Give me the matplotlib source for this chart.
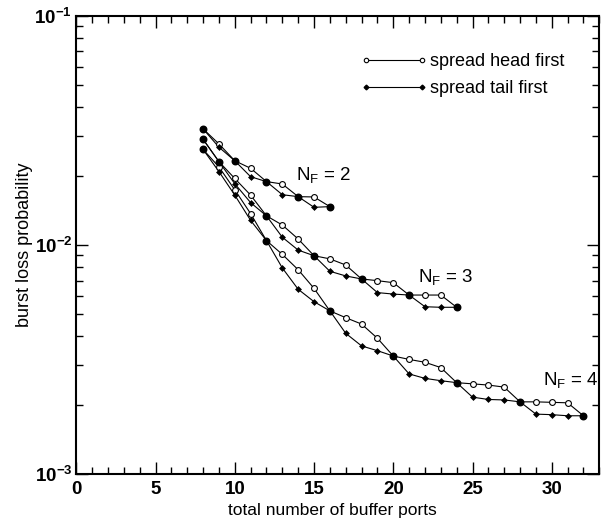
import numpy as np
import matplotlib
matplotlib.use("Agg")
import matplotlib.pyplot as plt
from matplotlib.ticker import MultipleLocator, FixedLocator, FixedFormatter, LogLocator, NullFormatter
from matplotlib.lines import Line2D
from matplotlib.legend_handler import HandlerLine2D

plt.rcParams['font.family'] = ['Liberation Sans', 'DejaVu Sans']
plt.rcParams['mathtext.fontset'] = 'custom'
plt.rcParams['mathtext.rm'] = 'Liberation Sans'
plt.rcParams['mathtext.it'] = 'Liberation Sans:italic'
plt.rcParams['mathtext.bf'] = 'Liberation Sans:bold'

# ---- data ----
x_nf2 = list(range(8, 17))
head_nf2 = [0.0321, 0.0276, 0.0233, 0.0216, 0.0189, 0.01845, 0.01625, 0.0162, 0.0147]
tail_nf2 = [0.0321, 0.0267, 0.0233, 0.01985, 0.0189, 0.01657, 0.01625, 0.0146, 0.0147]

x_nf3 = list(range(8, 25))
head_nf3 = [0.0289, 0.0231, 0.0195, 0.0165, 0.0134, 0.01222, 0.01062, 0.00898, 0.0087,
            0.00818, 0.00711, 0.00699, 0.00685, 0.00605, 0.00605, 0.00605, 0.00535]
tail_nf3 = [0.0289, 0.0231, 0.0185, 0.0153, 0.0134, 0.01081, 0.0095, 0.00898, 0.00768,
            0.00733, 0.00711, 0.0062, 0.00611, 0.00605, 0.00538, 0.00535, 0.00535]

x_nf4 = list(range(8, 33))
head_nf4 = [0.0261, 0.0219, 0.0174, 0.0137, 0.01045, 0.0091, 0.0078, 0.00647, 0.00516,
            0.00482, 0.00452, 0.00392, 0.00328, 0.00317, 0.00308, 0.00292, 0.00251,
            0.00248, 0.00245, 0.0024, 0.00207, 0.00207, 0.00206, 0.00205, 0.0018]
tail_nf4 = [0.0261, 0.0209, 0.0165, 0.0128, 0.01045, 0.00794, 0.00641, 0.00566, 0.00516,
            0.00412, 0.00363, 0.00346, 0.00328, 0.00274, 0.00262, 0.00256, 0.00251,
            0.00217, 0.00212, 0.00211, 0.00207, 0.00183, 0.00182, 0.0018, 0.0018]

curve_labels = [r'$\mathrm{N_F}$ = 2', r'$\mathrm{N_F}$ = 3', r'$\mathrm{N_F}$ = 4']
legend_labels = ['spread head first', 'spread tail first']
xlabel = 'total number of buffer ports'
ylabel = 'burst loss probability'

# ---- figure ----
fig = plt.figure(figsize=(6.13, 5.24), dpi=100)
ax = fig.add_axes([76.3/613, 1-474.3/524, (599.3-76.3)/613, (474.3-15.7)/524])

lw = 0.8
series = [(x_nf2, head_nf2, tail_nf2), (x_nf3, head_nf3, tail_nf3), (x_nf4, head_nf4, tail_nf4)]
for xs, hs, ts in series:
    xs = np.array(xs); hs = np.array(hs); ts = np.array(ts)
    ax.plot(xs, hs, '-', color='black', lw=lw, zorder=2)
    ax.plot(xs, ts, '-', color='black', lw=lw, zorder=2)
    diff = ~np.isclose(hs, ts)
    ax.plot(xs[diff], hs[diff], 'o', ls='none', mfc='white', mec='black', mew=0.8, ms=4.2, zorder=3)
    ax.plot(xs[diff], ts[diff], 'D', ls='none', mfc='black', mec='black', mew=0.5, ms=3.0, zorder=3)
    same = ~diff
    ax.plot(xs[same], hs[same], 'o', ls='none', mfc='black', mec='black', ms=4.7, zorder=4)

ax.set_yscale('log')
ax.set_xlim(0, 33)
ax.set_ylim(1e-3, 1e-1)

ax.xaxis.set_major_locator(MultipleLocator(5))
ax.xaxis.set_minor_locator(MultipleLocator(1))
ax.yaxis.set_major_locator(FixedLocator([1e-3, 1e-2, 1e-1]))
ax.yaxis.set_major_formatter(FixedFormatter([r'$\mathbf{10^{-3}}$', r'$\mathbf{10^{-2}}$', r'$\mathbf{10^{-1}}$']))
ax.yaxis.set_minor_locator(LogLocator(base=10, subs=np.arange(2, 10)))
ax.yaxis.set_minor_formatter(NullFormatter())
ax.set_xticks([0, 5, 10, 15, 20, 25, 30])
ax.set_xticklabels(['0', '5', '10', '15', '20', '25', '30'], fontweight='bold')

ax.tick_params(which='both', direction='in', top=True, right=True, width=1.0, labelsize=13.5)
ax.tick_params(which='major', length=8.5)
ax.tick_params(axis='x', which='major', pad=5)
ax.tick_params(axis='y', which='major', pad=3)
ax.tick_params(which='minor', length=5)
for sp in ax.spines.values():
    sp.set_linewidth(1.5)

ax.set_xlabel(xlabel, fontsize=12.5)
ax.xaxis.set_label_coords((332 - 76.3) / 523.0, -29 / 458.6)
ax.set_ylabel(ylabel, fontsize=13)
ax.yaxis.set_label_coords((33 - 76.3) / 523.0, 0.5)

# curve labels
ax.text(13.85, 0.0192, curve_labels[0], fontsize=13.5, ha='left', va='baseline')
ax.text(21.55, 0.00688, curve_labels[1], fontsize=13.5, ha='left', va='baseline')
ax.text(29.45, 0.00245, curve_labels[2], fontsize=13.5, ha='left', va='baseline')

handles = [Line2D([], [], color='black', lw=lw, marker='o', mfc='white', mec='black', mew=0.8, ms=3.2),
           Line2D([], [], color='black', lw=lw, marker='D', mfc='black', mec='black', ms=2.4)]
leg = ax.legend(handles, legend_labels, loc='upper left', bbox_to_anchor=(366/613, 1-53.5/524),
                bbox_transform=fig.transFigure, frameon=False, numpoints=2, handlelength=3.1,
                handletextpad=0.45, labelspacing=0.55, fontsize=13, borderpad=0, borderaxespad=0,
                handler_map={Line2D: HandlerLine2D(marker_pad=0, numpoints=2)})

fig.savefig('out.png', dpi=100)
